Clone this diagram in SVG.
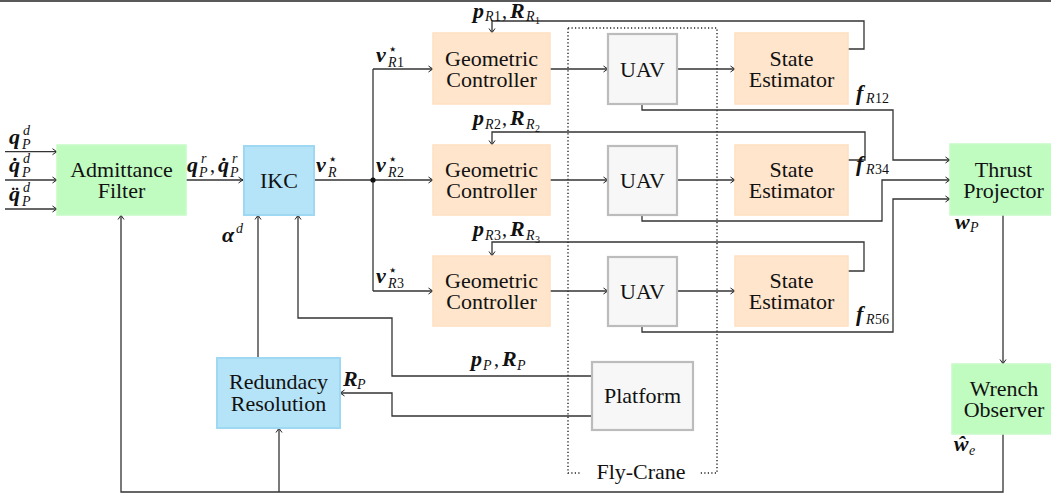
<svg xmlns="http://www.w3.org/2000/svg" width="1051" height="498" viewBox="0 0 1051 498">
<style>
text{font-family:"Liberation Serif","DejaVu Serif",serif;fill:#111}
.nt{font-size:22px;text-anchor:middle}
.mb{font-size:22px;font-weight:bold;font-style:italic}
.mi{font-size:14px;font-style:italic}
.mr{font-size:14px}
.ms{font-size:10px}
.st{font-size:15px;font-family:"DejaVu Sans",sans-serif}
.cm{font-size:20px}
.green{fill:#c0fcc0;stroke:#c8fac8;stroke-width:1.5}
.blue{fill:#b5e4f8;stroke:#9ed8f3;stroke-width:2}
.orange{fill:#ffe5cc;stroke:#ffdfc0;stroke-width:1.5}
.gray{fill:#f7f7f7;stroke:#bcbcbc;stroke-width:2.2}
.c{fill:none;stroke:#333;stroke-width:1.3}
.ca{fill:none;stroke:#333;stroke-width:1.3;marker-end:url(#arr)}
</style>
<defs>
<marker id="arr" viewBox="-6 -4 7 8" refX="0" refY="0" markerWidth="7" markerHeight="8" orient="auto" markerUnits="userSpaceOnUse">
<path d="M-4.5,-3 Q-1.5,-0.8 0,0 Q-1.5,0.8 -4.5,3" fill="none" stroke="#222" stroke-width="1"/>
</marker>
</defs>
<rect width="1051" height="498" fill="#fff"/>
<line x1="0" y1="1" x2="1051" y2="1" stroke="#222" stroke-width="1.6"/>

<g id="flycrane">
<rect x="568" y="28" width="149" height="445" fill="none" stroke="#222" stroke-width="1.4" stroke-dasharray="1.2 2.3"/>
<rect x="580" y="462" width="120" height="24" fill="#fff"/>
<text class="nt" x="641" y="479">Fly-Crane</text>
</g>

<g id="connectors">
<path class="ca" d="M5,151.7H57"/>
<path class="ca" d="M5,180H57"/>
<path class="ca" d="M5,209H57"/>
<path class="ca" d="M186,180H243"/>
<path class="ca" d="M314,180H433"/>
<path class="c" d="M373,69V291"/>
<path class="ca" d="M373,69H433"/>
<path class="ca" d="M373,291H433"/>
<circle cx="373" cy="180" r="2.6" fill="#111"/>
<path class="ca" d="M550,69H608"/>
<path class="ca" d="M550,180H608"/>
<path class="ca" d="M550,291H608"/>
<path class="ca" d="M677,69H735"/>
<path class="ca" d="M677,180H735"/>
<path class="ca" d="M677,291H735"/>
<path class="ca" d="M848,49H864V21H492V33"/>
<path class="ca" d="M848,160H865V132H492V145"/>
<path class="ca" d="M848,271H864V242H492V256"/>
<path class="ca" d="M642,104V110H893V160H950"/>
<path class="ca" d="M642,215V221H882V180H950"/>
<path class="ca" d="M642,326V332H893V199H950"/>
<path class="ca" d="M1003,215V364"/>
<path class="ca" d="M1003,434V492H121V215"/>
<path class="ca" d="M279,492V428"/>
<path class="ca" d="M258,358V215"/>
<path class="ca" d="M592,376H392V318H298V215"/>
<path class="ca" d="M592,416H392V393H340"/>
</g>

<g id="admittance">
<rect class="green" x="57" y="145" width="129" height="70"/>
<text class="nt" x="121.5" y="177">Admittance</text>
<text class="nt" x="121.5" y="198">Filter</text>
</g>
<g id="ikc">
<rect class="blue" x="244" y="146" width="70" height="69"/>
<text class="nt" x="279" y="188">IKC</text>
</g>
<g id="gc1">
<rect class="orange" x="433" y="33" width="117" height="71"/>
<text class="nt" x="491.5" y="66">Geometric</text>
<text class="nt" x="491.5" y="87">Controller</text>
</g>
<g id="gc2">
<rect class="orange" x="433" y="145" width="117" height="70"/>
<text class="nt" x="491.5" y="177">Geometric</text>
<text class="nt" x="491.5" y="198">Controller</text>
</g>
<g id="gc3">
<rect class="orange" x="433" y="256" width="117" height="70"/>
<text class="nt" x="491.5" y="288">Geometric</text>
<text class="nt" x="491.5" y="309">Controller</text>
</g>
<g id="uav1">
<rect class="gray" x="608" y="34" width="69" height="70"/>
<text class="nt" x="642.5" y="77">UAV</text>
</g>
<g id="uav2">
<rect class="gray" x="608" y="146" width="69" height="69"/>
<text class="nt" x="642.5" y="188">UAV</text>
</g>
<g id="uav3">
<rect class="gray" x="608" y="257" width="69" height="69"/>
<text class="nt" x="642.5" y="299">UAV</text>
</g>
<g id="se1">
<rect class="orange" x="735" y="33" width="113" height="71"/>
<text class="nt" x="791.5" y="66">State</text>
<text class="nt" x="791.5" y="87">Estimator</text>
</g>
<g id="se2">
<rect class="orange" x="735" y="145" width="113" height="70"/>
<text class="nt" x="791.5" y="177">State</text>
<text class="nt" x="791.5" y="198">Estimator</text>
</g>
<g id="se3">
<rect class="orange" x="735" y="256" width="113" height="70"/>
<text class="nt" x="791.5" y="288">State</text>
<text class="nt" x="791.5" y="309">Estimator</text>
</g>
<g id="thrust">
<rect class="green" x="950" y="144" width="108" height="71"/>
<text class="nt" x="1003.5" y="177">Thrust</text>
<text class="nt" x="1003.5" y="198">Projector</text>
</g>
<g id="wrench">
<rect class="green" x="952" y="364" width="106" height="70"/>
<text class="nt" x="1004" y="396">Wrench</text>
<text class="nt" x="1004" y="417">Observer</text>
</g>
<g id="redundancy">
<rect class="blue" x="217" y="358" width="123" height="70"/>
<text class="nt" x="278.5" y="389">Redundacy</text>
<text class="nt" x="278.5" y="411">Resolution</text>
</g>
<g id="platform">
<rect class="gray" x="592" y="362" width="101" height="68"/>
<text class="nt" x="642.5" y="403">Platform</text>
</g>

<g id="labels">
<text class="mb" x="9" y="144">q</text><text class="mi" x="22" y="149">P</text><text class="mi" x="23" y="135">d</text>
<text class="mb" x="9" y="172">q̇</text><text class="mi" x="22" y="177">P</text><text class="mi" x="23" y="163">d</text>
<text class="mb" x="9" y="201">q̈</text><text class="mi" x="22" y="206">P</text><text class="mi" x="23" y="192">d</text>

<text class="mb" x="187" y="172">q</text><text class="mi" x="199" y="177">P</text><text class="mi" x="201" y="163">r</text><text class="cm" x="210" y="172">,</text>
<text class="mb" x="218" y="172">q̇</text><text class="mi" x="230" y="177">P</text><text class="mi" x="232" y="163">r</text>

<text class="mb" x="316" y="172">v</text><text class="st" x="328" y="164">⋆</text><text class="mi" x="328" y="177">R</text>
<text class="mb" x="376" y="62">v</text><text class="st" x="388" y="54">⋆</text><text class="mi" x="388" y="67">R</text><text class="mr" x="397" y="67">1</text>
<text class="mb" x="376" y="172">v</text><text class="st" x="388" y="164">⋆</text><text class="mi" x="388" y="177">R</text><text class="mr" x="397" y="177">2</text>
<text class="mb" x="376" y="283">v</text><text class="st" x="388" y="275">⋆</text><text class="mi" x="388" y="288">R</text><text class="mr" x="397" y="288">3</text>

<text class="mb" x="473" y="18">p</text><text class="mi" x="485" y="21">R</text><text class="mr" x="494" y="21">1</text><text class="cm" x="502" y="18">,</text>
<text class="mb" x="510" y="18">R</text><text class="mi" x="526" y="21">R</text><text class="ms" x="535" y="24">1</text>
<text class="mb" x="473" y="125">p</text><text class="mi" x="485" y="129">R</text><text class="mr" x="494" y="129">2</text><text class="cm" x="502" y="125">,</text>
<text class="mb" x="510" y="125">R</text><text class="mi" x="526" y="129">R</text><text class="ms" x="535" y="132">2</text>
<text class="mb" x="473" y="236">p</text><text class="mi" x="485" y="240">R</text><text class="mr" x="494" y="240">3</text><text class="cm" x="502" y="236">,</text>
<text class="mb" x="510" y="236">R</text><text class="mi" x="526" y="240">R</text><text class="ms" x="535" y="243">3</text>

<text class="mb" x="856" y="100">f</text><text class="mi" x="866" y="103">R</text><text class="mr" x="875" y="103">12</text>
<text class="mb" x="856" y="171">f</text><text class="mi" x="866" y="174">R</text><text class="mr" x="875" y="174">34</text>
<text class="mb" x="856" y="321">f</text><text class="mi" x="866" y="324">R</text><text class="mr" x="875" y="324">56</text>

<text class="mb" x="955" y="229">w</text><text class="mi" x="970" y="232">P</text>
<text class="mb" x="954" y="451">ŵ</text><text class="mi" x="969" y="455">e</text>
<text class="mb" x="222" y="242">α</text><text class="mi" x="236" y="233">d</text>

<text class="mb" x="471" y="366">p</text><text class="mi" x="483" y="370">P</text><text class="cm" x="494" y="366">,</text>
<text class="mb" x="502" y="366">R</text><text class="mi" x="517" y="370">P</text>
<text class="mb" x="343" y="386">R</text><text class="mi" x="357" y="389">P</text>
</g>
</svg>
